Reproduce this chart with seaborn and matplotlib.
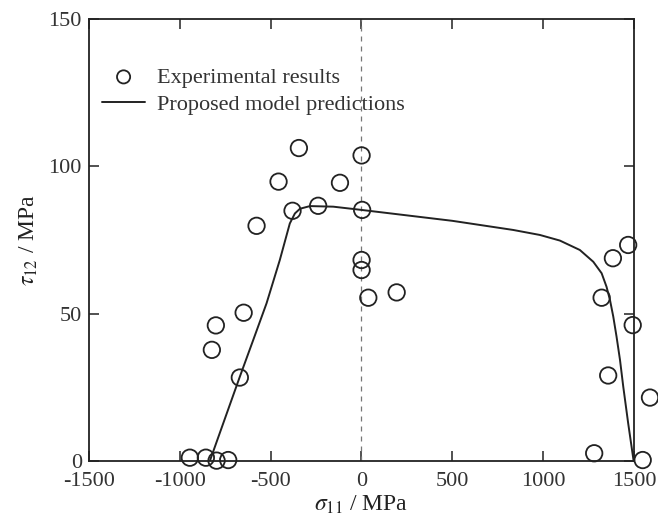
import numpy as np
import pandas as pd
import matplotlib
matplotlib.use("Agg")
import matplotlib.pyplot as plt
import seaborn as sns

# experimental points (sigma11, tau12) in MPa
exp_s11 = [-944, -856, -797, -733, -823, -801, -648, -669, -577, -456, -344, -379, -238,
           -118, 1, 4, 1, 1, 38, 194, 1322, 1493, 1358, 1588, 1281, 1548, 1468, 1384]
exp_t12 = [1.1, 1.1, 0.1, 0.3, 37.7, 46.0, 50.3, 28.3, 79.8, 94.8, 106.2, 84.9, 86.6,
           94.4, 103.7, 85.2, 68.2, 64.8, 55.4, 57.2, 55.4, 46.1, 29.0, 21.5, 2.6, 0.3, 73.3, 68.8]

# model prediction curve
mod_s11 = [-834, -669, -595, -522, -449, -394, -366, -338, -283, -155, 0, 500, 835, 982,
           1092, 1202, 1276, 1322, 1349, 1368, 1386, 1404, 1423, 1441, 1468, 1498]
mod_t12 = [0, 28.6, 41.1, 53.5, 68.2, 80.6, 84.0, 85.6, 86.5, 86.3, 85.2, 81.5, 78.4, 76.7,
           74.8, 71.6, 67.6, 63.7, 59.1, 54.6, 49.0, 42.2, 34.3, 25.2, 12.8, 0]

exp_df = pd.DataFrame({"s11": exp_s11, "t12": exp_t12})
mod_df = pd.DataFrame({"s11": mod_s11, "t12": mod_t12})

sns.set_style("ticks")
plt.rcParams["font.family"] = ["Liberation Serif", "DejaVu Serif"]
plt.rcParams["mathtext.fontset"] = "stix"
plt.rcParams["axes.unicode_minus"] = False

fig = plt.figure(figsize=(6.58, 5.22), dpi=100)
ax = fig.add_axes([0.135, 0.117, 0.8285, 0.8466])

ax.axvline(0, color="#777777", lw=0.9, ls=(0, (4, 4)), zorder=1)
sns.lineplot(data=mod_df, x="s11", y="t12", sort=False, color="#222222", lw=1.4,
             ax=ax, label="Proposed model predictions", zorder=2)
sns.scatterplot(data=exp_df, x="s11", y="t12", marker="o", s=140, facecolor="none",
                edgecolor="#222222", linewidth=1.3, ax=ax, label="Experimental results",
                zorder=3, clip_on=False)

ax.set_xlim(-1500, 1500)
ax.set_ylim(0, 150)
ax.set_xticks([-1500, -1000, -500, 0, 500, 1000, 1500])
ax.set_yticks([0, 50, 100, 150])
ax.tick_params(direction="in", length=7, width=1.2, top=True, right=True,
               labelsize=16, colors="#333333")
ax.tick_params(axis="x", pad=8)
ax.tick_params(axis="y", pad=5)
for sp in ax.spines.values():
    sp.set_linewidth(1.3)
    sp.set_color("#222222")

ax.set_xlabel(r"$\sigma_{11}$ / MPa", fontsize=17, labelpad=2, color="#222222")
ax.set_ylabel(r"$\tau_{12}$ / MPa", fontsize=17, labelpad=6, color="#222222")

h, l = ax.get_legend_handles_labels()
ax.legend(h[::-1], l[::-1], loc="upper left", bbox_to_anchor=(0.024, 0.891), frameon=False,
          fontsize=16, handlelength=1.95, handletextpad=0.55, labelspacing=0.28,
          markerscale=0.8, borderaxespad=0, borderpad=0, labelcolor="#333333")

fig.savefig("out.png", dpi=100)
